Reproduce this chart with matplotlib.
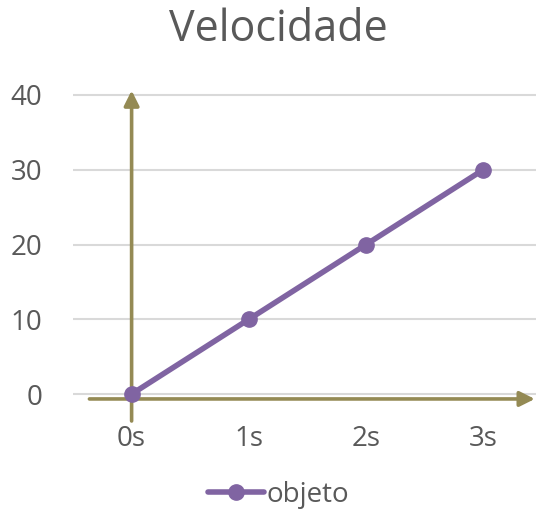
import matplotlib
matplotlib.use('Agg')
import matplotlib.pyplot as plt

plt.rcParams['font.family'] = ['Open Sans', 'DejaVu Sans']

categorias = ['0s', '1s', '2s', '3s']
velocidade = [0, 10, 20, 30]
y_ticks = [0, 10, 20, 30, 40]

roxo = '#8064A2'
oliva = '#948A54'
cinza = '#595959'

fig = plt.figure(figsize=(5.36, 5.12), dpi=100)
ax = fig.add_axes([73/536, 1-424/512, 1-73/536, (424-87.5)/512])

x = list(range(len(categorias)))
ax.plot(x, velocidade, color=roxo, lw=4, marker='o', ms=11, label='objeto',
        solid_capstyle='round', zorder=4)

# setas dos eixos
ax.annotate('', xy=(0, 40.6), xytext=(0, -3.6),
            arrowprops=dict(arrowstyle='-|>,head_length=0.9,head_width=0.45',
                            color=oliva, lw=2.6, shrinkA=0, shrinkB=0), zorder=3)
ax.annotate('', xy=(3.44, -0.65), xytext=(-0.36, -0.65),
            arrowprops=dict(arrowstyle='-|>,head_length=0.9,head_width=0.45',
                            color=oliva, lw=2.6, shrinkA=0, shrinkB=0), zorder=3)

ax.set_xlim(-0.5, 3.45)
ax.set_ylim(-4, 41)
ax.set_yticks(y_ticks)
ax.set_xticks(x)
ax.set_xticklabels(categorias)
ax.grid(axis='y', color='#D9D9D9', lw=1.5)
ax.set_axisbelow(True)
for s in ax.spines.values():
    s.set_visible(False)
ax.tick_params(length=0, labelsize=20, labelcolor=cinza)
ax.tick_params(axis='y', pad=22)
ax.tick_params(axis='x', pad=1)

fig.text(0.52, 1-30/512, 'Velocidade', ha='center', va='center',
         fontsize=31, color=cinza)

fig.legend(loc='center', bbox_to_anchor=(0.52, 1-495/512), frameon=False,
           fontsize=20, labelcolor=cinza, handlelength=2.0, handletextpad=0.1)

fig.savefig('out.png', dpi=100)
